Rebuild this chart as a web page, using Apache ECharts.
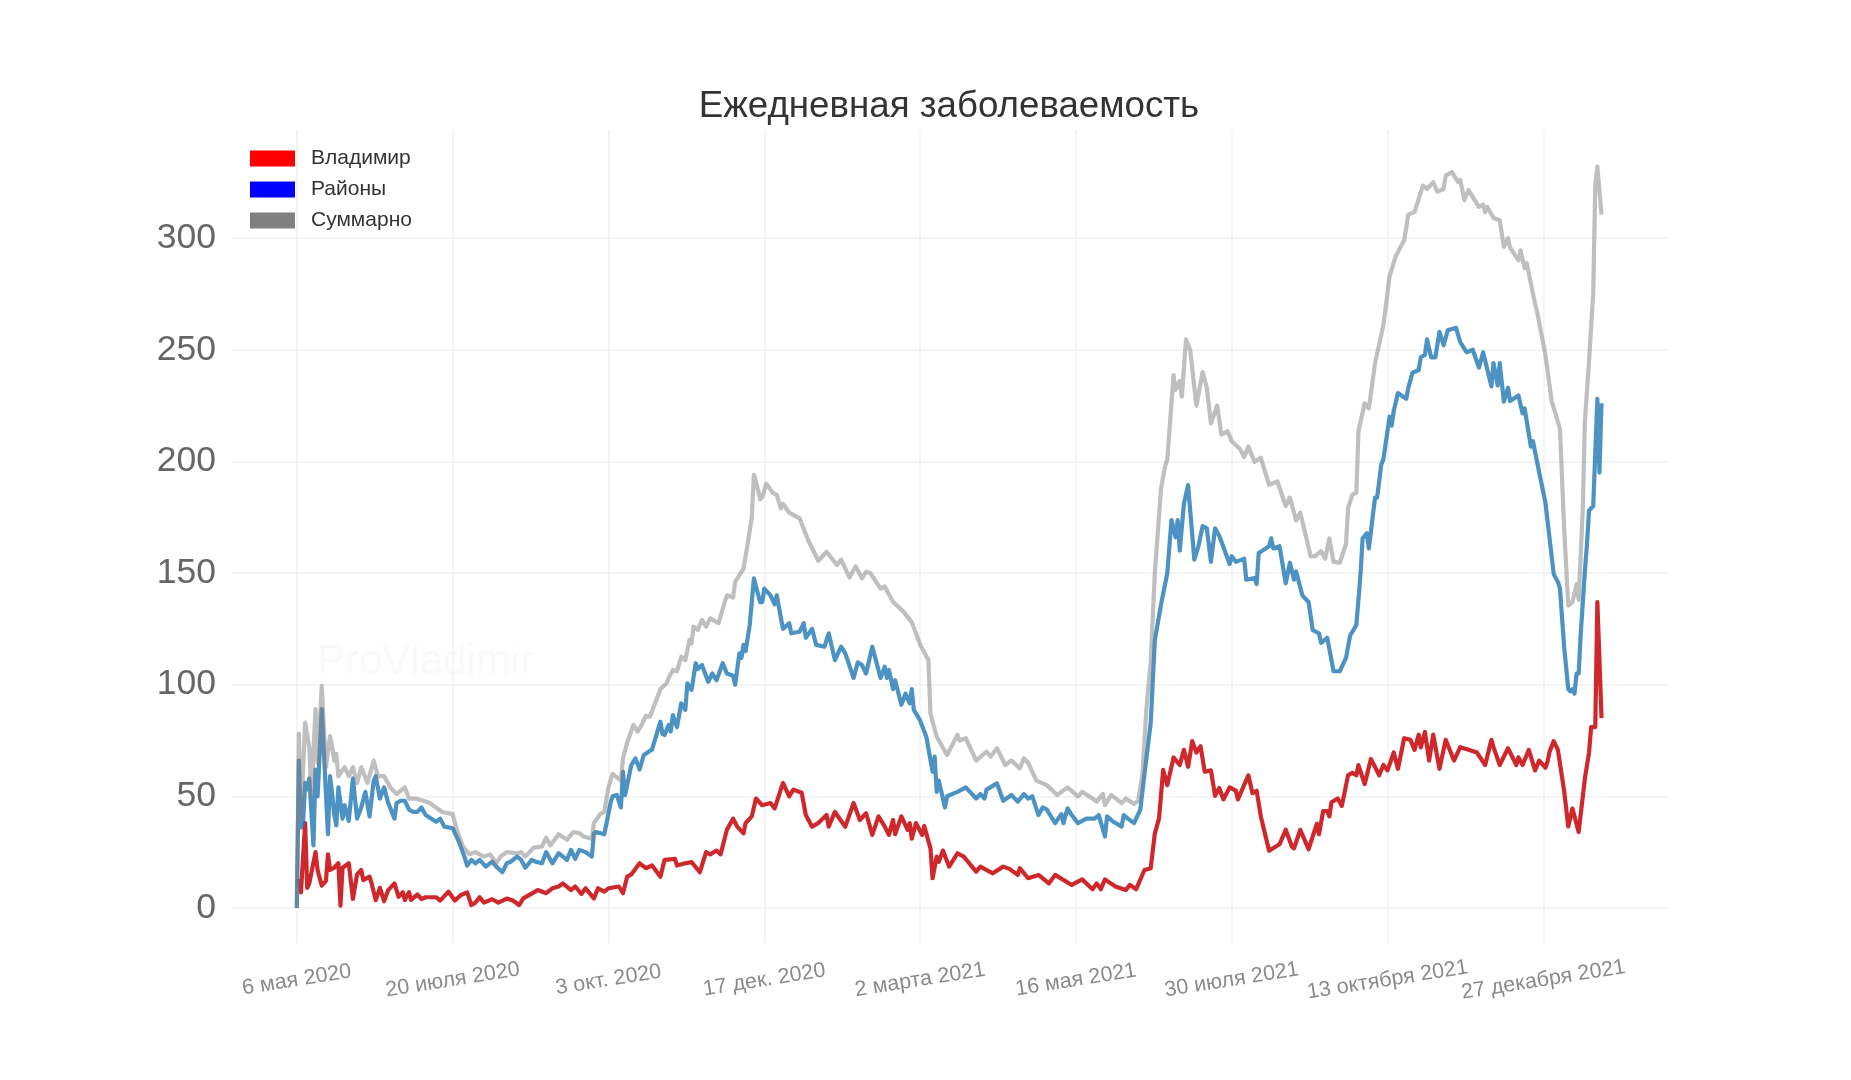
<!DOCTYPE html>
<html>
<head>
<meta charset="utf-8">
<style>
html,body{margin:0;padding:0;background:#fff;}
#chart{width:1851px;height:1080px;}
</style>
<script src="https://cdn.jsdelivr.net/npm/echarts@6/dist/echarts.min.js"></script>
</head>
<body>
<div id="chart"></div>
<script>
// дни от 6 мая 2020 и подписи оси
var tickDays=[0,75,150,225,300,375,450,525,600];
var tickLabels=['6 мая 2020','20 июля 2020','3 окт. 2020','17 дек. 2020','2 марта 2021','16 мая 2021','30 июля 2021','13 октября 2021','27 декабря 2021'];
var yTicks=[0,50,100,150,200,250,300];
var seriesNames=['Владимир','Районы','Суммарно'];

// [день, значение]
var vladimir=[[0,12],[1,12],[2,7],[4,38],[5,9],[6,11],[9,25],[10,17],[12,10],[14,12],[15,24],[16,17],[18,18],[20,20],[21,1],[22,18],[25,20],[27,4],[29,15],[31,17],[32,12.5],[35,14],[36,11],[38,3.5],[40,9],[42,3],[44,8],[47,11],[49,5],[51,7],[52,3.6],[54,7],[55,3.6],[58,6],[60,4],[62,4.8],[67,4.8],[69,3.3],[73,7.3],[76,3.3],[79,5.8],[82,7],[84,1.3],[86,2.4],[88,4.8],[90,2.4],[94,3.9],[97,2.4],[101,4.2],[104,3.3],[107,1.3],[109,4.3],[116,8],[120,6.6],[123,8.8],[126,9.6],[128,11],[132,8],[134,9.6],[137,6.3],[139,8.8],[143,4.3],[145,8.8],[148,7.3],[150,8.8],[155,9.6],[157,6.6],[159,14],[161,15],[165,20],[168,17.8],[171,19],[175,14],[177,21.5],[182,22],[183,19],[187,20],[190,20.5],[194,16],[197,25],[199,24],[202,25.7],[204,24],[207,35],[210,40],[212,36.4],[215,33.4],[216,38],[219,41],[221,49],[224,46],[228,47],[230,44.6],[234,56],[237,50],[239,53],[243,51.6],[245,41.6],[248,36.4],[251,38],[255,41.6],[256,36.4],[259,43],[264,36.4],[268,47],[271,39.4],[274,42.4],[277,32.7],[280,41],[283,36.4],[285,32.7],[287,39.4],[288,33],[291,41],[294,35],[295,38],[296,31],[298,38],[301,32.7],[302,36.7],[305,26.7],[306,13.3],[308,23],[309,20.7],[311,25.7],[314,18.5],[318,24.5],[321,23],[327,16.3],[329,18.5],[335,15.5],[340,18.5],[343,17.5],[347,14.8],[348,17.8],[352,13.3],[357,14.8],[362,11],[365,14.8],[373,10.3],[378,12.8],[383,8.4],[385,11],[387,8.4],[389,12.8],[394,9.6],[399,8],[401,10.3],[404,8.4],[408,17],[411,17.8],[413,33.4],[415,40],[417,61.8],[419,55],[422,67.4],[425,64],[427,70.8],[429,63.2],[431,74.7],[433,69.6],[435,72.4],[437,61],[440,61.6],[442,50.2],[444,53.7],[446,48.6],[449,54],[452,52.5],[453,48.6],[458,59.4],[460,51.4],[462,52.5],[464,41],[468,25.6],[473,28.5],[476,35],[479,27.4],[480,26.7],[483,35],[487,26.3],[491,37.7],[492,33],[494,43.4],[496,43.4],[497,41],[498,47.3],[501,49],[503,45.7],[506,59.4],[508,60.5],[510,59.4],[511,64],[514,55.5],[517,66.7],[521,59.4],[523,64],[525,61.6],[528,69.6],[530,62.3],[533,76],[536,75.3],[538,70.8],[540,77.6],[541,71.9],[543,78.8],[545,66],[547,77.6],[550,62.3],[553,75.3],[557,66],[560,72],[564,70.8],[568,69.6],[572,64],[575,75.3],[576,72],[579,64],[583,71.5],[587,64],[588,67.5],[590,64],[593,70.8],[596,61.6],[598,66],[601,62.8],[602,65.5],[603,70],[605,74.7],[607,70.8],[610,52.5],[612,36.5],[614,44.5],[617,34],[620,58],[622,69.6],[623,81],[625,81],[626,137],[628,85]];

var rayony=[[0,0],[1,66],[2,36],[3,38],[4,56],[5,53],[6,58],[8,28],[9,62],[10,50],[12,89],[15,33],[16,59],[17,51],[18,42],[19,37],[20,54],[22,40],[23,46],[25,39],[27,58],[29,40],[31,45],[33,52],[35,41],[37,57],[38,59],[40,49],[42,54],[44,47],[47,40],[48,47],[50,48],[52,48],[54,44],[56,43],[58,43],[60,45],[62,41.6],[67,38.6],[69,40],[71,36.4],[75,35.7],[78,29.7],[81,22],[82,19],[84,21.5],[86,20],[88,21.5],[91,18.5],[94,20.7],[96,18.5],[99,16],[101,20],[103,20.7],[106,23],[108,21.5],[110,18],[113,21.5],[115,20.7],[118,20],[120,25],[123,20],[126,24.5],[130,21.5],[132,26],[134,22],[136,26],[139,25],[142,23],[143,33.4],[144,34],[148,33],[151,47],[152,50],[154,50.6],[156,45],[157,61],[158,50.6],[161,64],[163,67],[165,62],[167,68.5],[171,71],[175,83.4],[176,78],[177,77.5],[179,82],[180,79],[181,86.4],[183,81],[185,91.6],[187,88.7],[188,100.6],[190,97.6],[192,109.6],[193,107],[195,108.8],[198,101.3],[200,105],[202,102],[205,109.6],[207,105],[210,104],[211,100],[213,114],[214,112],[215,117.8],[216,115],[218,126.7],[220,147.6],[221,144],[223,137],[224,137],[225,143],[228,140],[230,136],[231,140],[234,125],[237,127.5],[238,123],[242,123.7],[244,127.5],[245,121],[248,125],[250,117.8],[254,117],[256,123],[259,111],[262,117],[264,114],[268,103],[270,110],[272,108.8],[274,105],[277,117],[281,103],[283,108],[284,103],[285,106.6],[287,98],[288,102],[291,91],[293,96],[295,91.6],[296,98],[297,88.7],[300,84],[303,76.7],[306,61],[307,67.8],[308,52],[309,57],[312,45],[313,50],[318,52],[322,54],[327,49],[329,51],[331,49],[332,53],[337,55.8],[340,48],[344,50.6],[347,47.6],[350,51],[352,49],[354,50],[357,41.6],[359,45],[361,44],[365,38],[368,42],[369,38],[371,44.6],[373,41.6],[376,38],[380,40],[384,40],[386,41.6],[389,32],[390,41],[393,38.6],[397,36.4],[398,41.6],[400,40],[403,38],[406,44],[408,60],[411,82.7],[413,120],[416,136],[419,150],[421,173.7],[423,166],[424,173.7],[425,160],[427,181],[429,189.4],[432,156],[434,162],[436,171],[438,170],[440,155],[442,170],[444,166.7],[449,154],[450,157.5],[452,155],[456,156.4],[457,147],[461,147.7],[462,145],[463,159],[468,162],[469,165.5],[470,161],[473,162],[476,145.4],[478,154.6],[480,147],[481,150.7],[484,140],[487,137],[489,124.4],[492,123],[493,118.7],[496,121],[499,106],[502,106],[505,112],[507,122],[510,126.7],[512,149.5],[513,165.5],[515,167.8],[516,161],[519,183.8],[520,183.8],[522,198.6],[523,201],[526,220],[527,216],[528,222.6],[530,230.6],[534,228],[535,232.9],[537,239.7],[540,240.9],[541,246.6],[543,247.7],[544,254.6],[546,246.6],[548,246.6],[550,258],[552,252],[554,258.7],[558,259.8],[560,253.4],[563,248.9],[566,250],[569,242],[571,248.9],[575,233.6],[576,244],[578,234],[579,244],[581,226.7],[583,233],[584,227],[588,229.5],[590,221.5],[591,223.7],[594,206.6],[595,209],[598,195],[601,181.5],[603,165.5],[605,149.5],[607,146],[608,143],[610,117],[612,98],[613,97],[614,98],[615,96],[616,105],[617,105],[618,123],[620,151],[621,163],[622,178],[624,180],[626,228],[627,195],[628,226]];

var summarno=[[0,0],[1,78],[2,40],[4,83],[6,72],[7,50],[9,89],[10,65],[12,99.5],[14,63],[16,77],[17,72],[18,66],[19,69],[20,59],[23,63],[25,59],[27,63],[29,56],[31,63],[34,56],[37,66],[39,59],[42,59],[45,54],[48,51],[52,54],[54,49],[57,49],[61,48],[64,47],[70,43],[75,42],[77,35],[80,27.5],[83,24],[86,25],[90,23],[93,24],[96,20],[98,23],[101,25],[106,24.5],[108,25],[110,23],[114,27],[118,27.5],[120,31.5],[122,28],[126,33],[130,30.5],[133,34],[136,33.5],[138,32],[142,31],[143,38],[146,42],[148,43],[150,54],[152,60],[156,57],[157,67],[159,74],[162,82],[164,79],[166,82],[168,86],[170,85.7],[173,93],[175,98],[178,100.6],[179,103],[181,106.6],[183,106],[185,112.5],[187,111],[189,120],[190,118.5],[191,126],[193,124.5],[195,129],[197,126],[199,129.7],[203,127.5],[205,134],[207,140],[210,139],[211,146],[215,152],[217,163],[219,175],[220,194],[221,191],[223,183],[224,184],[226,190],[229,186],[231,185],[233,179],[234,181],[237,177],[242,174.5],[246,165],[251,155.5],[255,159.5],[260,153.6],[262,156],[266,148],[269,153],[272,147.6],[274,150.5],[276,150],[281,143],[283,144],[287,137],[292,132.7],[296,128],[300,118],[304,111],[305,87],[308,76.7],[313,68.5],[318,77.5],[319,75],[322,76],[327,66],[332,70],[334,67.8],[337,71.5],[341,64],[344,66],[348,62.5],[350,67],[352,65],[356,57],[361,55],[366,50.6],[371,54],[376,50],[378,52],[383,49],[385,47.6],[388,51],[389,46],[392,50.6],[397,46.9],[399,49],[403,46.6],[405,48],[407,60],[409,90],[411,110],[413,150],[416,188],[418,198],[419,201],[422,238.6],[423,232],[425,236],[426,229],[428,254.6],[430,250],[433,225],[436,240],[438,233],[440,217],[443,225],[445,212],[448,213.5],[450,209],[454,205.5],[456,202],[458,206.6],[461,199.8],[464,201.6],[468,189.5],[472,191],[476,180],[478,183.8],[481,173.5],[483,177],[488,157.5],[490,157.5],[493,159.8],[495,156.4],[497,165.5],[499,155],[502,154.6],[505,163],[506,179],[508,185],[510,186],[511,213.5],[514,226],[516,223.7],[519,244],[523,261],[526,283],[529,292],[533,299],[535,310.5],[538,311.6],[542,323.5],[544,322],[547,325],[549,320.8],[552,322],[553,328],[556,329.5],[559,325],[560,326],[562,317],[564,321.5],[569,314],[571,315],[572,311.6],[573,314],[576,309],[579,308],[581,296],[583,300],[584,295.7],[588,290],[589,294.5],[591,286.5],[592,288.8],[596,270.5],[597,267],[601,247.7],[604,227],[608,214.6],[610,170],[612,135.4],[614,137],[616,145],[617,138],[619,179],[620,218],[622,245],[624,275],[625,324],[626,332],[628,310.5]];

var chart=echarts.init(document.getElementById('chart'));
var font='"Liberation Sans",Arial,sans-serif';

function makeLine(name,data,color){
	return {
		name:name,
		type:'line',
		data:data,
		symbol:'none',
		showSymbol:false,
		lineStyle:{color:color,width:4.2,join:'round'},
		itemStyle:{color:color}
	};
}

chart.setOption({
	animation:false,
	backgroundColor:'#fff',
	title:{
		text:'Ежедневная заболеваемость',
		left:944,
		top:83,
		textAlign:'center',
		textStyle:{fontFamily:font,fontSize:36.7,fontWeight:'normal',color:'#333'}
	},
	legend:{
		orient:'vertical',
		left:250,
		top:148,
		padding:0,
		itemWidth:45,
		itemHeight:16,
		itemGap:10,
		icon:'rect',
		textStyle:{fontFamily:font,fontSize:21,color:'#333',padding:[0,0,0,11]},
		data:[
			{name:seriesNames[0],itemStyle:{color:'#ff0000'}},
			{name:seriesNames[1],itemStyle:{color:'#0000ff'}},
			{name:seriesNames[2],itemStyle:{color:'#808080'}}
		]
	},
	grid:{left:232,right:183,top:130,bottom:137},
	xAxis:{
		type:'value',
		min:-31.2,
		max:660,
		axisLine:{show:false},
		axisTick:{show:false,customValues:tickDays},
		splitLine:{show:true,lineStyle:{color:'#f1f1f1',width:1.5}},
		axisLabel:{
			customValues:tickDays,
			showMinLabel:true,
			showMaxLabel:true,
			hideOverlap:false,
			rotate:9,
			margin:37,
			align:'center',
			verticalAlign:'middle',
			fontFamily:font,
			fontSize:21.5,
			color:'#8a8a8a',
			formatter:function(v){return tickLabels[tickDays.indexOf(v)];}
		}
	},
	yAxis:{
		type:'value',
		min:-15.7,
		max:348.4,
		axisLine:{show:false},
		axisTick:{show:false,customValues:yTicks},
		splitLine:{show:true,lineStyle:{color:'#f1f1f1',width:1.5}},
		axisLabel:{
			customValues:yTicks,
			margin:16,
			padding:[12,0,0,0],
			fontFamily:font,
			fontSize:35.5,
			color:'#666'
		}
	},
	graphic:[{
		type:'text',
		left:317,
		top:641,
		silent:true,
		style:{text:'ProVladimir',fontFamily:font,fontSize:42,fill:'#fafafa'}
	}],
	series:[
		makeLine(seriesNames[0],vladimir,'rgba(200,10,15,0.88)'),
		makeLine(seriesNames[1],rayony,'rgba(31,119,180,0.8)'),
		makeLine(seriesNames[2],summarno,'rgba(128,128,128,0.5)')
	]
});
</script>
</body>
</html>
